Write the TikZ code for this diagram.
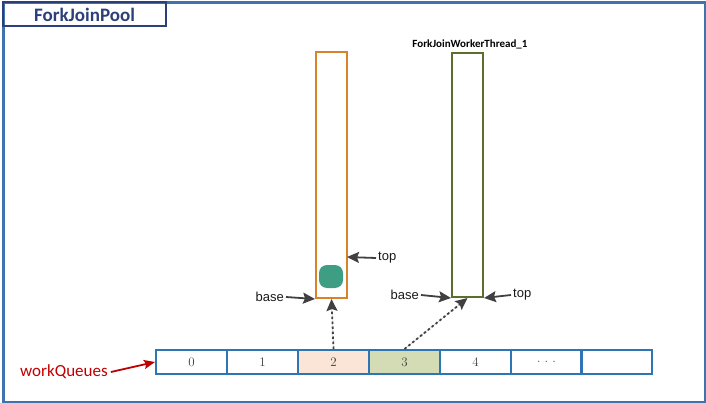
\documentclass[tikz,border=0pt]{standalone}
\usepackage{fontspec}
\setmainfont{Liberation Sans}
\newfontfamily\calibri{Carlito}
\newfontfamily\lmserif{Latin Modern Roman}
\usetikzlibrary{arrows.meta}
\definecolor{frameblue}{HTML}{3F72AF}
\definecolor{titlenavy}{HTML}{2B3F7A}
\definecolor{cellblue}{HTML}{2E75B6}
\definecolor{tuborange}{HTML}{D9822B}
\definecolor{tubolive}{HTML}{5B6E2E}
\definecolor{blob}{HTML}{3E9E84}
\definecolor{peach}{HTML}{FBE5D6}
\definecolor{sage}{HTML}{D3DCB5}
\definecolor{arrowgray}{HTML}{404040}
\definecolor{wqred}{HTML}{C00000}
\begin{document}
\begin{tikzpicture}[x=1pt,y=-1pt,
  cellbox/.style={draw=cellblue,line width=2pt,minimum width=71pt,minimum height=24pt,inner sep=0pt,anchor=north west,font=\lmserif\fontsize{13}{13}\selectfont,text=black!75},
  tube/.style={line width=2pt,minimum width=31pt,inner sep=0pt,anchor=north west},
  ptr/.style={-{Stealth[length=12pt,width=11pt,inset=2pt]},draw=arrowgray,fill=arrowgray,line width=1.8pt},
  dotptr/.style={-{Stealth[length=12pt,width=11pt,inset=2pt]},draw=arrowgray,fill=arrowgray,line width=1.8pt,dash pattern=on 2.5pt off 2.5pt},
  lbl/.style={font=\fontsize{13}{13}\selectfont,inner sep=0pt,text=black!90}]
\useasboundingbox (0,0) rectangle (706,403);
\node[draw=frameblue,line width=3pt,minimum width=702pt,minimum height=399pt,anchor=north west,inner sep=0pt] (frame) at (2,1.5) {};
\node[draw=titlenavy,line width=2pt,minimum width=163pt,minimum height=24pt,anchor=north west,inner sep=0pt,font=\calibri\bfseries\fontsize{19}{19}\selectfont,text=titlenavy] (title) at (2,1.5) {ForkJoinPool};
% tubes
\node[tube,draw=tuborange,minimum height=246pt] (t1) at (315,51) {};
\node[tube,draw=tubolive,minimum height=244pt] (t2) at (451,52) {};
\node[font=\calibri\bfseries\fontsize{11}{11}\selectfont,inner sep=0pt] (t2lbl) at (470,44) {ForkJoinWorkerThread\_1};
\node[fill=blob,rounded corners=8pt,minimum width=24pt,minimum height=23pt,inner sep=0pt] (task) at (331,276.5) {};
% array
\node[cellbox] (c0) at (155,349) {0};
\node[cellbox] (c1) at (226,349) {1};
\node[cellbox,fill=peach] (c2) at (297,349) {2};
\node[cellbox,fill=sage] (c3) at (368,349) {3};
\node[cellbox] (c4) at (439,349) {4};
\node[cellbox] (c5) at (510,349) {.\hspace{4pt}.\hspace{4pt}.};
\node[cellbox] (c6) at (580,349) {};
% labels
\node[lbl,anchor=east] (b1) at (284,297) {base};
\node[lbl,anchor=west] (p1) at (378,258) {top};
\node[lbl,anchor=east] (b2) at (419,295) {base};
\node[lbl,anchor=west] (p2) at (513,295) {top};
\coordinate (t1top) at (347,257);
\node[font=\calibri\fontsize{17}{17}\selectfont,text=wqred,inner sep=0pt,anchor=west] (wq) at (20,372) {workQueues};
% arrows
\draw[ptr] (b1.east) ++(2,0) -- (t1.south west);
\draw[ptr] (p1.west) ++(-2,0) -- (t1top);
\draw[ptr] (b2.east) ++(2,0) -- (t2.south west);
\draw[ptr] (p2.west) ++(-2,0) -- (t2.south east);
\draw[dotptr] (c2.north) -- (t1.south);
\draw[dotptr] (c3.north) -- (t2.south);
\draw[-{Stealth[length=11pt,width=9pt,inset=2pt]},draw=wqred,fill=wqred,line width=1.8pt] (wq.east) ++(3,0) -- (c0.west);
\end{tikzpicture}
\end{document}
